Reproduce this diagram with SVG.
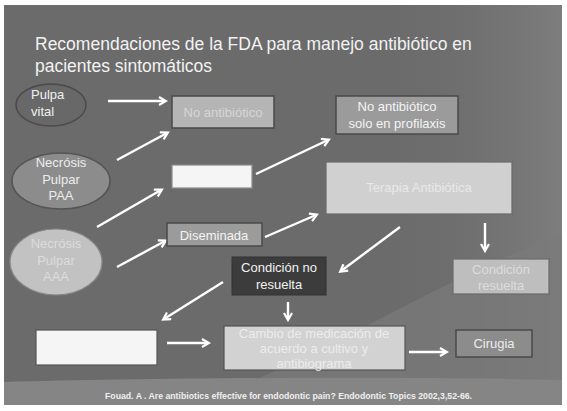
<svg xmlns="http://www.w3.org/2000/svg" width="567" height="411" viewBox="0 0 567 411">
<defs>
  <marker id="ah" markerWidth="10" markerHeight="10" refX="7" refY="5" orient="auto" markerUnits="userSpaceOnUse">
    <path d="M1,1 L8,5 L1,9" fill="none" stroke="#ffffff" stroke-width="2.2" stroke-linejoin="miter"/>
  </marker>
  <linearGradient id="bgR" x1="0" y1="0" x2="1" y2="0">
    <stop offset="0" stop-color="#6e6e6e" stop-opacity="0"/>
    <stop offset="1" stop-color="#8a8a8a"/>
  </linearGradient>
</defs>
<style>
  text { font-family: "Liberation Sans", Arial, sans-serif; }
  .lbl { font-size: 13px; text-anchor: middle; }
  .conn line { stroke: #ffffff; stroke-width: 2.4; marker-end: url(#ah); }
  .box { stroke: #4a4a4a; stroke-width: 1.5; }
</style>
<rect x="0" y="0" width="567" height="411" fill="#ffffff"/>
<rect x="4" y="5" width="558" height="400" fill="#6b6b6b"/>
<rect x="380" y="5" width="182" height="400" fill="url(#bgR)" opacity="0.6"/>
<path d="M250,382 C350,340 460,270 562,235 L562,405 L250,405 Z" fill="#7a7a7a" opacity="0.7"/>
<path d="M4,382 C150,378 400,376 562,380 L562,405 L4,405 Z" fill="#858585"/>

<text x="35" y="50" font-size="17.5" fill="#f2f2f2">Recomendaciones de la FDA para manejo antibiótico en</text>
<text x="35" y="72" font-size="17.5" fill="#f2f2f2">pacientes sintomáticos</text>

<g class="conn">
  <line x1="108" y1="101" x2="165" y2="101"/>
  <line x1="117" y1="160" x2="167" y2="133"/>
  <line x1="97" y1="227" x2="161" y2="190"/>
  <line x1="117" y1="267" x2="165" y2="241"/>
  <line x1="256" y1="174" x2="328" y2="140"/>
  <line x1="265" y1="237" x2="316" y2="215"/>
  <line x1="485" y1="223" x2="485" y2="250"/>
  <line x1="400" y1="227" x2="341" y2="271"/>
  <line x1="223" y1="282" x2="164" y2="319"/>
  <line x1="288" y1="302" x2="288" y2="319"/>
  <line x1="167" y1="343" x2="208" y2="343"/>
  <line x1="409" y1="352" x2="446" y2="352"/>
</g>

<g id="pulpa-vital">
  <ellipse cx="51" cy="105" rx="35" ry="21" fill="#686868" stroke="#4a4a4a" stroke-width="1.5"/>
  <text x="31" y="99" font-size="13" fill="#f0f0f0">Pulpa</text>
  <text x="31" y="116" font-size="13" fill="#f0f0f0">vital</text>
</g>

<g id="necrosis-paa">
  <ellipse cx="61" cy="181" rx="49" ry="28" fill="#8c8c8c" stroke="#555555" stroke-width="1.5"/>
  <text class="lbl" x="61" y="167" fill="#ededed">Necrósis</text>
  <text class="lbl" x="61" y="184" fill="#ededed">Pulpar</text>
  <text class="lbl" x="61" y="200" fill="#ededed">PAA</text>
</g>

<g id="necrosis-aaa">
  <ellipse cx="56" cy="262" rx="46" ry="33" fill="#c2c2c2" stroke="#888888" stroke-width="1.2"/>
  <text class="lbl" x="56" y="248" fill="#dcdcdc">Necrósis</text>
  <text class="lbl" x="56" y="265" fill="#dcdcdc">Pulpar</text>
  <text class="lbl" x="56" y="281" fill="#dcdcdc">AAA</text>
</g>

<g id="no-antibiotico">
  <rect class="box" x="172" y="96" width="102" height="32" fill="#b5b5b5"/>
  <text class="lbl" x="223" y="117" fill="#d6d6d6">No antibiótico</text>
</g>

<g id="no-antibiotico-profilaxis">
  <rect class="box" x="336" y="96" width="122" height="38" fill="#9b9b9b"/>
  <text class="lbl" x="397" y="111" fill="#f4f4f4">No antibiótico</text>
  <text class="lbl" x="397" y="128" fill="#f4f4f4">solo en profilaxis</text>
</g>

<g id="localizada">
  <rect x="172" y="165" width="80" height="23" fill="#f5f5f5" stroke="#8a8a8a" stroke-width="1.2"/>
</g>

<g id="diseminada">
  <rect class="box" x="167" y="223" width="95" height="23" fill="#9b9b9b"/>
  <text class="lbl" x="214" y="240" fill="#f4f4f4">Diseminada</text>
</g>

<g id="terapia">
  <rect x="326" y="162" width="186" height="52" fill="#d0d0d0" stroke="#6a6a6a" stroke-width="1.2"/>
  <text class="lbl" x="419" y="192" font-size="14" fill="#e9e9e9">Terapia Antibiótica</text>
</g>

<g id="condicion-resuelta">
  <rect x="453" y="259" width="96" height="35" fill="#bebebe" stroke="#6a6a6a" stroke-width="1.2"/>
  <text class="lbl" x="501" y="274" fill="#dcdcdc">Condición</text>
  <text class="lbl" x="501" y="290" fill="#dcdcdc">resuelta</text>
</g>

<g id="condicion-no-resuelta">
  <rect x="232" y="257" width="94" height="38" fill="#3c3c3c" stroke="#333333" stroke-width="1"/>
  <text class="lbl" x="279" y="272" fill="#f2f2f2">Condición no</text>
  <text class="lbl" x="279" y="289" fill="#f2f2f2">resuelta</text>
</g>

<g id="drenaje">
  <rect x="36" y="330" width="121" height="35" fill="#f5f5f5" stroke="#555555" stroke-width="1.2"/>
</g>

<g id="cambio">
  <rect x="224" y="326" width="181" height="44" fill="#d2d2d2" stroke="#555555" stroke-width="1.2"/>
  <text class="lbl" x="314" y="338" font-size="12.5" fill="#ececec">Cambio de medicación de</text>
  <text class="lbl" x="314" y="353" font-size="12.5" fill="#ececec">acuerdo a cultivo y</text>
  <text class="lbl" x="314" y="368" font-size="12.5" fill="#ececec">antibiograma</text>
</g>

<g id="cirugia">
  <rect class="box" x="456" y="330" width="76" height="27" fill="#8c8c8c"/>
  <text class="lbl" x="494" y="348" fill="#ededed">Cirugia</text>
</g>

<text x="105" y="399" font-size="9" font-weight="bold" fill="#f0f0f0" textLength="367" lengthAdjust="spacingAndGlyphs">Fouad. A . Are antibiotics  effective for endodontic pain? Endodontic Topics 2002,3,52-66.</text>
</svg>
